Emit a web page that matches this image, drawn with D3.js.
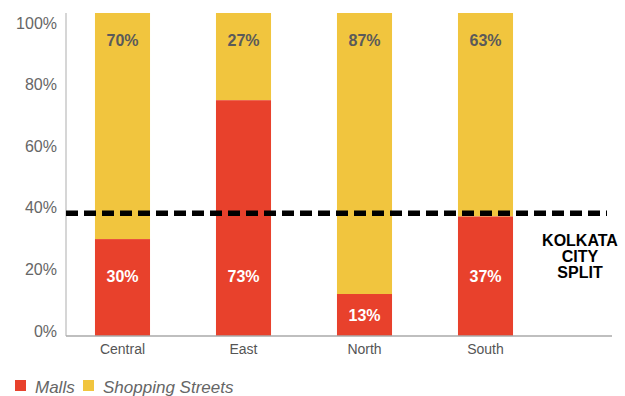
<!DOCTYPE html>
<html>
<head>
<meta charset="utf-8">
<script src="https://cdn.jsdelivr.net/npm/d3@7"></script>
<style>
  html, body { margin: 0; padding: 0; background: #fff; }
  #chart { width: 625px; height: 396px; }
  text { font-family: "Liberation Sans", Arial, Helvetica, sans-serif; }
</style>
</head>
<body>
<div id="chart"></div>
<script>
// Mall vs street retail split by zone

const regions = ["Central", "East", "North", "South"];
const malls = [30, 73, 13, 37];
const streets = [70, 27, 87, 63];
const citySplit = 38;
const yTicks = [0, 20, 40, 60, 80, 100];
const seriesNames = ["Malls", "Shopping Streets"];
const seriesColors = ["#e8412c", "#f1c53e"];
const splitLabel = ["KOLKATA", "CITY", "SPLIT"];

function renderChart(containerId) {
  const container = d3.select(`#${containerId}`);
  container.selectAll("*").remove();

  const width = 625;
  const height = 396;

  const svg = container.append("svg")
    .attr("width", width)
    .attr("height", height);

  const axisLeft = 66;
  const axisRight = 612;

  const x = d3.scaleBand()
    .domain(regions)
    .range([62, 546])
    .paddingInner(0.545)
    .paddingOuter(0.2725);

  // bars
  const y = d3.scaleLinear().domain([0, 100]).range([336, 13]);
  // tick labels sit on a slightly tighter spread than the bars
  const yLabel = d3.scaleLinear().domain([0, 100]).range([331, 23]);

  const rows = regions.map((r, i) => ({ region: r, malls: malls[i], streets: streets[i] }));

  const g = svg.append("g");

  g.selectAll("rect.street")
    .data(rows)
    .join("rect")
    .attr("class", "street")
    .attr("x", d => x(d.region))
    .attr("y", d => y(d.malls + d.streets))
    .attr("width", x.bandwidth())
    .attr("height", d => y(d.malls) - y(d.malls + d.streets))
    .attr("fill", seriesColors[1]);

  g.selectAll("rect.mall")
    .data(rows)
    .join("rect")
    .attr("class", "mall")
    .attr("x", d => x(d.region))
    .attr("y", d => y(d.malls))
    .attr("width", x.bandwidth())
    .attr("height", d => y(0) - y(d.malls))
    .attr("fill", seriesColors[0]);

  // value labels
  g.selectAll("text.streetLbl")
    .data(rows)
    .join("text")
    .attr("class", "streetLbl")
    .attr("x", d => x(d.region) + x.bandwidth() / 2)
    .attr("y", d => y(d.malls + d.streets) + 27)
    .attr("dy", "0.35em")
    .attr("text-anchor", "middle")
    .style("font-size", "16px")
    .style("font-weight", "bold")
    .style("fill", "#5a5a5a")
    .text(d => d.streets + "%");

  g.selectAll("text.mallLbl")
    .data(rows)
    .join("text")
    .attr("class", "mallLbl")
    .attr("x", d => x(d.region) + x.bandwidth() / 2)
    .attr("y", d => {
      const h = y(0) - y(d.malls);
      return h > 80 ? y(0) - 60 : (y(0) + y(d.malls)) / 2;
    })
    .attr("dy", "0.35em")
    .attr("text-anchor", "middle")
    .style("font-size", "16px")
    .style("font-weight", "bold")
    .style("fill", "#fff")
    .text(d => d.malls + "%");

  // axes lines
  svg.append("line")
    .attr("x1", axisLeft).attr("x2", axisLeft)
    .attr("y1", y(100)).attr("y2", y(0))
    .attr("stroke", "#c8c8c8").attr("stroke-width", 1.5);

  svg.append("line")
    .attr("x1", axisLeft).attr("x2", axisRight)
    .attr("y1", y(0)).attr("y2", y(0))
    .attr("stroke", "#aaaaaa").attr("stroke-width", 1.5);

  // y tick labels
  svg.selectAll("text.ytick")
    .data(yTicks)
    .join("text")
    .attr("class", "ytick")
    .attr("x", 57)
    .attr("y", d => yLabel(d))
    .attr("dy", "0.35em")
    .attr("text-anchor", "end")
    .style("font-size", "16px")
    .style("fill", "#666")
    .text(d => d + "%");

  // category labels
  svg.selectAll("text.xtick")
    .data(regions)
    .join("text")
    .attr("class", "xtick")
    .attr("x", d => x(d) + x.bandwidth() / 2)
    .attr("y", 349)
    .attr("dy", "0.35em")
    .attr("text-anchor", "middle")
    .style("font-size", "14px")
    .style("fill", "#555")
    .text(d => d);

  // city split dashed line
  svg.append("line")
    .attr("x1", axisLeft).attr("x2", 607)
    .attr("y1", y(citySplit)).attr("y2", y(citySplit))
    .attr("stroke", "#000")
    .attr("stroke-width", 5.5)
    .attr("stroke-dasharray", "12,6");

  svg.append("text")
    .attr("text-anchor", "middle")
    .style("font-size", "16px")
    .style("font-weight", "bold")
    .style("fill", "#000")
    .selectAll("tspan")
    .data(splitLabel)
    .join("tspan")
    .attr("x", 580)
    .attr("y", (d, i) => 246 + i * 16)
    .text(d => d);

  // legend
  const legend = svg.append("g").attr("transform", "translate(15,380)");
  const legendX = [0, 68];
  seriesNames.forEach((name, i) => {
    const lg = legend.append("g").attr("transform", `translate(${legendX[i]},0)`);
    lg.append("rect")
      .attr("width", 11).attr("height", 11)
      .attr("fill", seriesColors[i]);
    lg.append("text")
      .attr("x", 20)
      .attr("y", 13)
      .style("font-size", "17px")
      .style("font-style", "italic")
      .style("fill", "#666")
      .text(name);
  });
}

document.addEventListener("DOMContentLoaded", () => renderChart("chart"));
</script>
</body>
</html>
